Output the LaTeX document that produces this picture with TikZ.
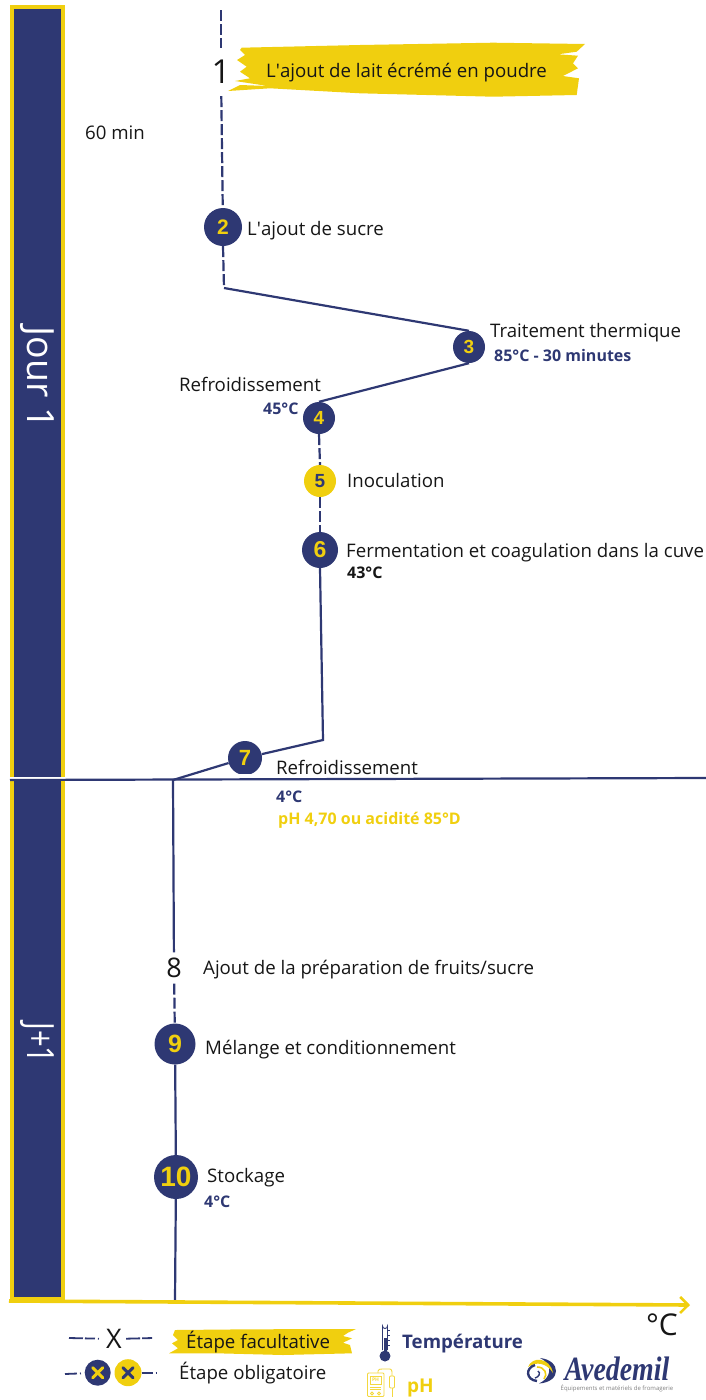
\documentclass[tikz,border=0pt]{standalone}
\usepackage{fontspec}
\setmainfont{Open Sans}
\newfontfamily\digitfont{Liberation Sans}
\newfontfamily\logofont{Liberation Serif}
\usetikzlibrary{arrows.meta}

\definecolor{navyline}{HTML}{2E3873}
\definecolor{brushyellow}{HTML}{F0CF0F}
\definecolor{softblack}{HTML}{161616}

\tikzset{
    stepdot/.style={circle, fill=navyline, text=brushyellow, inner sep=0pt, font=\digitfont\bfseries\fontsize{#1}{#1}\selectfont},
    optdot/.style={circle, fill=brushyellow, text=navyline, inner sep=0pt, font=\digitfont\bfseries\fontsize{#1}{#1}\selectfont},
    plainstep/.style={inner sep=0pt, text=softblack, font=\fontsize{#1}{#1}\selectfont},
    steplabel/.style={anchor=base west, inner sep=0pt, text=softblack, font=\fontsize{18.65}{22}\selectfont},
    templabel/.style={anchor=base west, inner sep=0pt, text=navyline, font=\bfseries\fontsize{16}{18}\selectfont},
    solidlink/.style={draw=navyline, line width=2.2pt},
    dashlink/.style={solidlink, dash pattern=on 11pt off 3pt},
    legenddash/.style={draw=navyline, line width=1.8pt, dash pattern=on 14pt off 2pt on 10pt off 3pt on 1pt},
    daylabel/.style={rotate=-90, inner sep=0pt, text=white, font=\fontsize{#1}{#1}\selectfont},
}

\begin{document}
\begin{tikzpicture}[x=1pt, y=-1pt]
        \useasboundingbox (0,0) rectangle (706,1400);

        % 1. The day bar and the brush strokes
        \filldraw[draw=brushyellow, fill=navyline, line width=4pt] (12,7) rectangle (63,1299);
        \fill[white] (10,777.2) rectangle (65,779);

        \fill[brushyellow] (241.7,47.7) -- (360,45) -- (493,42.7) -- (585,44) -- (576.7,51.7) -- (558,54.3)
            -- (578,55.7) -- (573,63.3) -- (578,68.3) -- (563,76) -- (579,78.3) -- (576.7,95) -- (493,96.7)
            -- (360,93.3) -- (270,88.3) -- (228,91) -- (240,85) -- (268,86) -- (235,81) -- (250,78.3)
            -- (240,71.7) -- (246.7,66.7) -- (237,60) -- (245,55) -- (240,50) -- cycle;
        \fill[brushyellow] (175,1330) -- (250,1329.3) -- (356,1329) -- (348,1332.7) -- (343,1336) -- (352,1338.3)
            -- (343,1342.7) -- (350,1345) -- (352,1353.3) -- (283,1355) -- (217,1353.3) -- (169,1353.3)
            -- (178,1348.3) -- (172,1343.3) -- (178,1340) -- (173,1335) -- cycle;

        % 2. Define the coordinates
        \coordinate (topEnd) at (221,10);
        \coordinate (bendA) at (224,288);
        \coordinate (bendB) at (323,740);
        \coordinate (bendC) at (173,780);
        \coordinate (dayL) at (10,780);
        \coordinate (dayR) at (706,778);
        \coordinate (axisL) at (9,1301);
        \coordinate (axisR) at (690,1305);
        \coordinate (bottomEnd) at (175,1301);

        % 3. The steps
        \node[plainstep=33, minimum height=48pt] (S1) at (221,72) {1};
        \node[stepdot=21, minimum size=38pt] (S2) at (223,227) {2};
        \node[stepdot=19, minimum size=32pt] (S3) at (469,347) {3};
        \node[stepdot=19, minimum size=32pt] (S4) at (319,418) {4};
        \node[optdot=19, minimum size=32pt] (S5) at (320,481) {5};
        \node[stepdot=23, minimum size=36pt] (S6) at (320,550) {6};
        \node[stepdot=22, minimum size=34pt] (S7) at (245,758) {7};
        \node[plainstep=27, minimum height=31pt] (S8) at (174,968) {8};
        \node[stepdot=25, minimum size=41pt] (S9) at (175,1044) {9};
        \node[stepdot=28, minimum size=44pt] (S10) at (176,1177) {10};
        \fill[white] (225,773.5) rectangle (265,778);

        % 4. Draw the edges
        \draw[dashlink] (topEnd) -- (S1);
        \draw[dashlink] (S1) -- (S2);
        \draw[dashlink] (S2.south) -- (bendA);
        \draw[solidlink] (bendA) -- (S3.north);
        \draw[solidlink] (S3.south) -- (S4.north);
        \draw[dashlink] (S4.south) -- (S5.north);
        \draw[dashlink] (S5.south) -- (S6.north);
        \draw[solidlink] (S6.south) -- (bendB) -- (S7);
        \draw[solidlink] (S7) -- (bendC);
        \draw[solidlink] (dayL) -- (dayR);
        \draw[solidlink] (bendC) -- (S8);
        \draw[dashlink] (S8) -- (S9);
        \draw[solidlink] (S9) -- (S10);
        \draw[solidlink] (S10) -- (bottomEnd);
        \draw[draw=brushyellow, line width=3.6pt, -{Straight Barb[length=8pt, width=16pt, line width=2.6pt]}] (axisL) -- (axisR);

        % 5. The labels
        \node[daylabel=37.5] (dayOne) at (37,378) {Jour 1};
        \node[daylabel=37.5, xscale=0.78] (dayTwo) at (37,1043) {J+1};
        \node[steplabel] (timeNote) at (85,139) {60 min};
        \node[steplabel] (lab1) at (266,77) {L\textquotesingle ajout de lait écrémé en poudre};
        \node[steplabel] (lab2) at (247,235) {L\textquotesingle ajout de sucre};
        \node[steplabel] (lab3) at (490,337) {Traitement thermique};
        \node[templabel] (temp3) at (494,361) {85°C - 30 minutes};
        \node[steplabel] (lab4) at (179,391) {Refroidissement};
        \node[templabel] (temp4) at (263,414) {45°C};
        \node[steplabel] (lab5) at (347,487) {Inoculation};
        \node[steplabel] (lab6) at (346,557) {Fermentation et coagulation dans la cuve};
        \node[templabel, text=softblack] (temp6) at (347,578) {43°C};
        \node[steplabel] (lab7) at (276,774) {Refroidissement};
        \node[templabel] (temp7) at (276,802) {4°C};
        \node[templabel, text=brushyellow] (acid7) at (278,824) {pH 4,70 ou acidité 85°D};
        \node[steplabel] (lab8) at (203,974) {Ajout de la préparation de fruits/sucre};
        \node[steplabel] (lab9) at (205,1054) {Mélange et conditionnement};
        \node[steplabel] (lab10) at (207,1182) {Stockage};
        \node[templabel] (temp10) at (204,1207) {4°C};
        \node[plainstep=30] (unit) at (662,1325) {°C};

        % 6. The legend
        \coordinate (legA) at (69,1338);
        \coordinate (legB) at (153,1338);
        \coordinate (legC) at (65,1374);
        \coordinate (legD) at (162,1372.7);
        \node[plainstep=27, minimum width=24pt] (legX) at (114,1339) {X};
        \node[circle, fill=navyline, minimum size=26pt, inner sep=0pt] (legDotA) at (97.7,1372.7) {};
        \node[circle, fill=brushyellow, minimum size=27pt, inner sep=0pt] (legDotB) at (128,1372.7) {};
        \draw[legenddash] (legA) -- (legX);
        \draw[legenddash] (legX) -- (legB);
        \draw[navyline, line width=1.8pt, dash pattern=on 12pt off 3pt on 1pt] (legC) -- (legDotA);
        \draw[navyline, line width=1.8pt, dash pattern=on 11pt off 3pt on 1pt] (legDotB) -- (legD);
        \foreach \p/\c in {legDotA/brushyellow, legDotB/navyline} {
            \draw[\c, line width=3pt, line cap=round] ([shift={(-5,-5)}]\p.center) -- ([shift={(5,5)}]\p.center);
            \draw[\c, line width=3pt, line cap=round] ([shift={(-5,5)}]\p.center) -- ([shift={(5,-5)}]\p.center);
        }
        \node[steplabel] (legOpt) at (186,1348) {Étape facultative};
        \node[steplabel] (legReq) at (179,1379) {Étape obligatoire};
        \node[templabel, font=\bfseries\fontsize{18.7}{22}\selectfont] (legTemp) at (402,1348) {Température};
        \node[templabel, text=brushyellow, font=\bfseries\fontsize{19}{22}\selectfont] (legPh) at (407,1392) {pH};

        % thermometer
        \draw[navyline, line width=0.9pt] (382.5,1350) -- (382.5,1326) arc (180:0:2.5) -- (387.5,1350);
        \fill[navyline] (383.5,1338) rectangle (386.5,1352);
        \filldraw[draw=navyline, fill=navyline, line width=0.9pt] (385,1356) circle (5pt);
        \foreach \y in {1330,1335,1340,1345}
            \draw[navyline, line width=0.6pt] (387.5,\y) -- (390,\y);

        % pH meter
        \begin{scope}[brushyellow!80!white, line width=0.9pt]
            \draw[rounded corners=1pt] (367.5,1373) rectangle (384,1396.5);
            \draw (370,1376) rectangle (381,1384);
            \node[inner sep=0pt, font=\bfseries\fontsize{5}{5}\selectfont] (meterText) at (375.5,1380) {PH};
            \draw (370,1387) -- (381,1387) (370,1389.5) -- (381,1389.5);
            \draw (372,1393.5) circle (1.5pt) (379,1393.5) circle (1.5pt);
            \draw (378,1373) -- (378,1371) to[out=90, in=180] (382,1369) -- (390,1369) to[out=0, in=90] (392,1372) -- (392,1376);
            \draw[rounded corners=1pt] (389.5,1376) rectangle (394.5,1388);
            \draw (392,1388) -- (392,1397);
        \end{scope}

        % logo
        \fill[navyline] (540,1358) .. controls (561,1360) and (562,1382) .. (539,1383.5)
            .. controls (551,1378) and (554,1365) .. (540,1358) -- cycle;
        \fill[brushyellow] (528,1367) .. controls (532,1356) and (550,1357) .. (553,1373)
            .. controls (547,1363) and (536,1361) .. (528,1367) -- cycle;
        \draw[navyline, line width=2.4pt] (535,1365) .. controls (525,1368) and (526,1380) .. (537,1381);
        \draw[brushyellow, line width=1.6pt] (537,1367) .. controls (545,1367) and (548,1374) .. (544,1379);
        \draw[navyline, line width=1.4pt] (535,1378) .. controls (539,1377) and (541,1373) .. (538,1371);
        \node[inner sep=0pt, text=navyline, xscale=0.82, font=\logofont\bfseries\itshape\fontsize{34}{34}\selectfont] (logoName) at (617,1369) {Avedemil};
        \node[inner sep=0pt, text=gray, font=\fontsize{6}{7}\selectfont] (logoSub) at (617,1388) {Équipements et matériels de fromagerie};

    \end{tikzpicture}
\end{document}
